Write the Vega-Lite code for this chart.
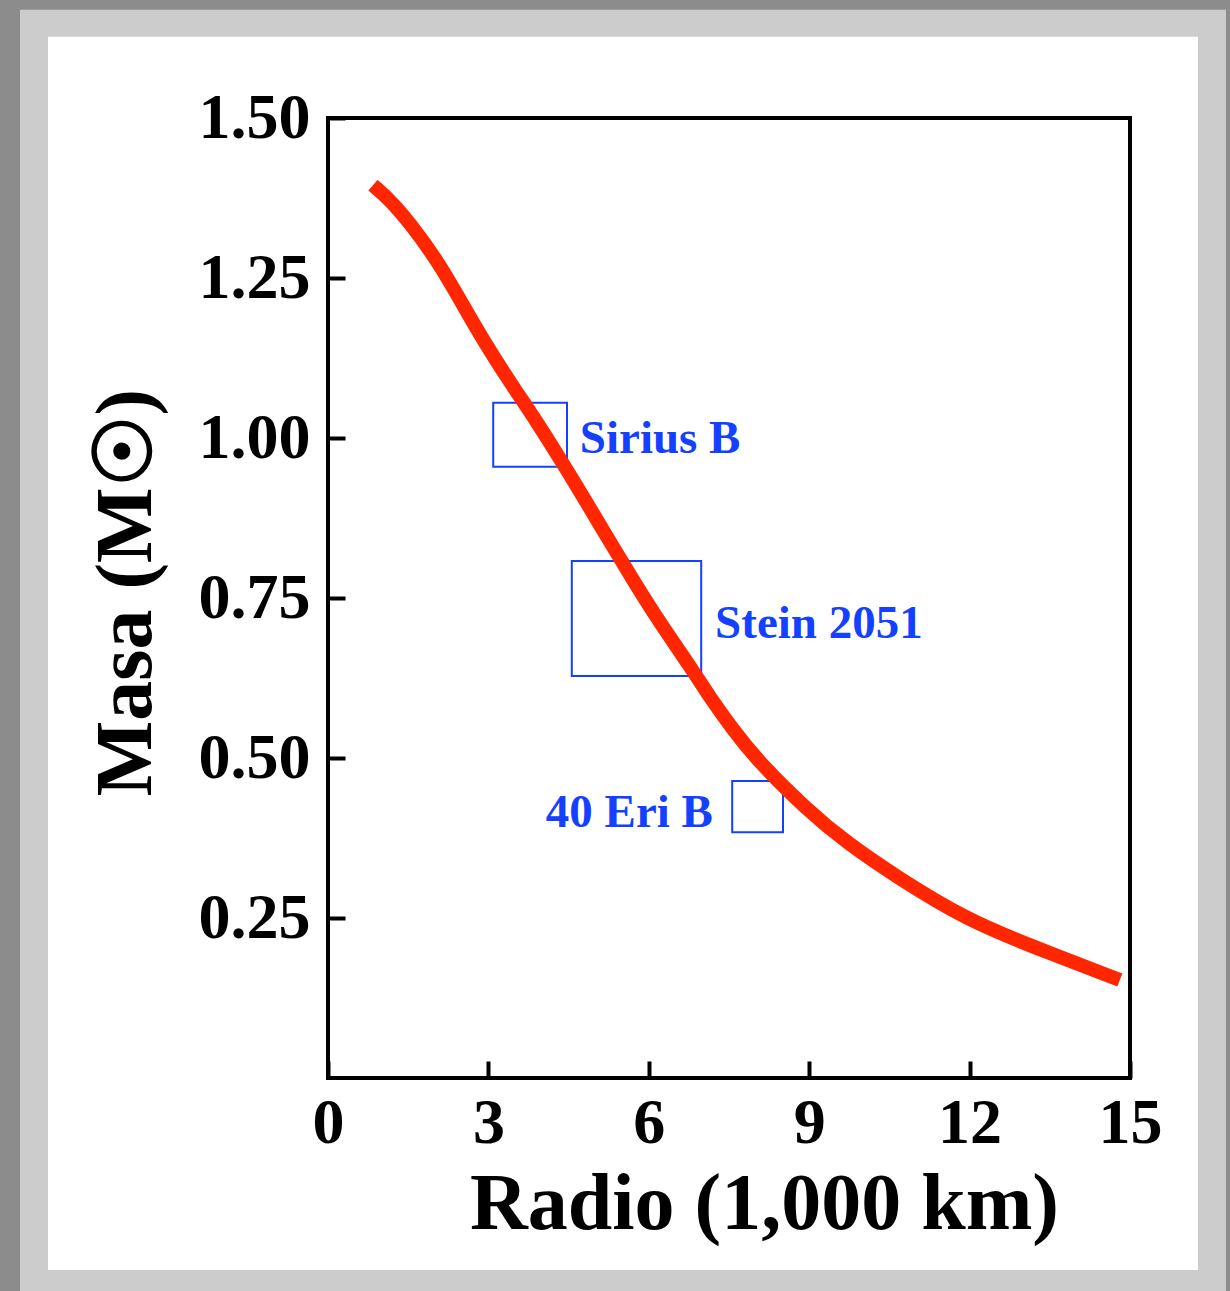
{
  "$schema": "https://vega.github.io/schema/vega-lite/v6.json",
  "width": 802,
  "height": 960,
  "autosize": {"type": "none"},
  "padding": {"left": 328, "top": 118, "right": 100, "bottom": 213},
  "background": "#8c8c8c",
  "config": {
    "view": {"stroke": null},
    "font": "Liberation Serif",
    "axis": {
      "domain": false, "grid": false,
      "ticks": true, "tickSize": -17, "tickWidth": 4, "tickColor": "#000000",
      "labelFont": "Liberation Serif", "labelFontWeight": "bold", "labelFontSize": 64, "labelColor": "#000000",
      "labelFlush": false, "labelOverlap": false, "labelBound": false,
      "titleFont": "Liberation Serif", "titleFontWeight": "bold", "titleFontSize": 80, "titleColor": "#000000",
      "titleBaseline": "alphabetic", "titleAlign": "center"
    },
    "axisX": {"labelPadding": 30, "titleX": 436, "titleY": 150, "titleAngle": 0},
    "axisY": {"labelPadding": 35, "labelBaseline": "middle", "titleX": -178, "titleY": 474, "titleAngle": 270}
  },
  "datasets": {
    "curve": [
      {"radius": 0.84, "mass": 1.395},
      {"radius": 1.16, "mass": 1.372},
      {"radius": 1.53, "mass": 1.336},
      {"radius": 2.04, "mass": 1.278},
      {"radius": 2.47, "mass": 1.216},
      {"radius": 2.9, "mass": 1.153},
      {"radius": 3.42, "mass": 1.085},
      {"radius": 3.91, "mass": 1.025},
      {"radius": 4.38, "mass": 0.962},
      {"radius": 4.81, "mass": 0.903},
      {"radius": 5.3, "mass": 0.834},
      {"radius": 5.75, "mass": 0.772},
      {"radius": 6.21, "mass": 0.711},
      {"radius": 6.79, "mass": 0.641},
      {"radius": 7.14, "mass": 0.595},
      {"radius": 7.57, "mass": 0.545},
      {"radius": 8.02, "mass": 0.497},
      {"radius": 8.96, "mass": 0.419},
      {"radius": 9.71, "mass": 0.367},
      {"radius": 10.64, "mass": 0.314},
      {"radius": 11.95, "mass": 0.247},
      {"radius": 13.19, "mass": 0.205},
      {"radius": 14.81, "mass": 0.153}
    ],
    "stars": [
      {"star": "Sirius B", "r1": 3.09, "r2": 4.47, "m1": 0.955, "m2": 1.055},
      {"star": "Stein 2051", "r1": 4.56, "r2": 6.98, "m1": 0.628, "m2": 0.808},
      {"star": "40 Eri B", "r1": 7.56, "r2": 8.51, "m1": 0.384, "m2": 0.464}
    ],
    "labelsRight": [
      {"text": "Sirius B", "radius": 4.71, "mass": 0.977},
      {"text": "Stein 2051", "radius": 7.24, "mass": 0.6875}
    ],
    "labelsLeft": [
      {"text": "40 Eri B", "radius": 7.2, "mass": 0.392}
    ]
  },
  "layer": [
    {
      "data": {"values": [{}]},
      "mark": {"type": "rect", "color": "#cccccc", "clip": false},
      "encoding": {
        "x": {"datum": -5.761, "type": "quantitative", "scale": {"domain": [0, 15], "nice": false}},
        "x2": {"datum": 16.795},
        "y": {"datum": -0.35, "type": "quantitative", "scale": {"domain": [0, 1.5], "nice": false}},
        "y2": {"datum": 1.669}
      }
    },
    {
      "data": {"values": [{}]},
      "mark": {"type": "rect", "color": "#ffffff", "clip": false},
      "encoding": {
        "x": {"datum": -5.237, "type": "quantitative", "scale": {"domain": [0, 15], "nice": false}},
        "x2": {"datum": 16.272},
        "y": {"datum": -0.3, "type": "quantitative", "scale": {"domain": [0, 1.5], "nice": false}},
        "y2": {"datum": 1.627}
      }
    },
    {
      "data": {"values": [{}]},
      "mark": {"type": "rect", "filled": false, "color": "#000000", "strokeWidth": 4, "clip": false},
      "encoding": {
        "x": {"datum": 0, "type": "quantitative", "scale": {"domain": [0, 15], "nice": false}},
        "x2": {"datum": 15},
        "y": {"datum": 0, "type": "quantitative", "scale": {"domain": [0, 1.5], "nice": false}},
        "y2": {"datum": 1.5}
      }
    },
    {
      "data": {"name": "stars"},
      "mark": {"type": "rect", "filled": false, "color": "#1440ff", "strokeWidth": 2},
      "encoding": {
        "x": {"field": "r1", "type": "quantitative", "scale": {"domain": [0, 15], "nice": false}},
        "x2": {"field": "r2"},
        "y": {"field": "m1", "type": "quantitative", "scale": {"domain": [0, 1.5], "nice": false}},
        "y2": {"field": "m2"}
      }
    },
    {
      "data": {"name": "curve"},
      "mark": {"type": "line", "color": "#ff2600", "strokeWidth": 14, "strokeCap": "butt", "interpolate": "basis"},
      "encoding": {
        "x": {
          "field": "radius", "type": "quantitative",
          "scale": {"domain": [0, 15], "nice": false},
          "axis": {"zindex": 1, "values": [0, 3, 6, 9, 12, 15], "format": "d", "title": "Radio (1,000 km)"}
        },
        "y": {
          "field": "mass", "type": "quantitative",
          "scale": {"domain": [0, 1.5], "nice": false},
          "axis": {"zindex": 1, "values": [0.25, 0.5, 0.75, 1, 1.25, 1.5], "format": ".2f", "title": "Masa (M☉)"}
        }
      }
    },
    {
      "data": {"name": "labelsRight"},
      "mark": {"type": "text", "color": "#1440ff", "font": "Liberation Serif", "fontWeight": "bold", "fontSize": 47, "baseline": "alphabetic", "align": "left"},
      "encoding": {
        "x": {"field": "radius", "type": "quantitative", "scale": {"domain": [0, 15], "nice": false}},
        "y": {"field": "mass", "type": "quantitative", "scale": {"domain": [0, 1.5], "nice": false}},
        "text": {"field": "text"}
      }
    },
    {
      "data": {"name": "labelsLeft"},
      "mark": {"type": "text", "color": "#1440ff", "font": "Liberation Serif", "fontWeight": "bold", "fontSize": 47, "baseline": "alphabetic", "align": "right"},
      "encoding": {
        "x": {"field": "radius", "type": "quantitative", "scale": {"domain": [0, 15], "nice": false}},
        "y": {"field": "mass", "type": "quantitative", "scale": {"domain": [0, 1.5], "nice": false}},
        "text": {"field": "text"}
      }
    }
  ]
}
